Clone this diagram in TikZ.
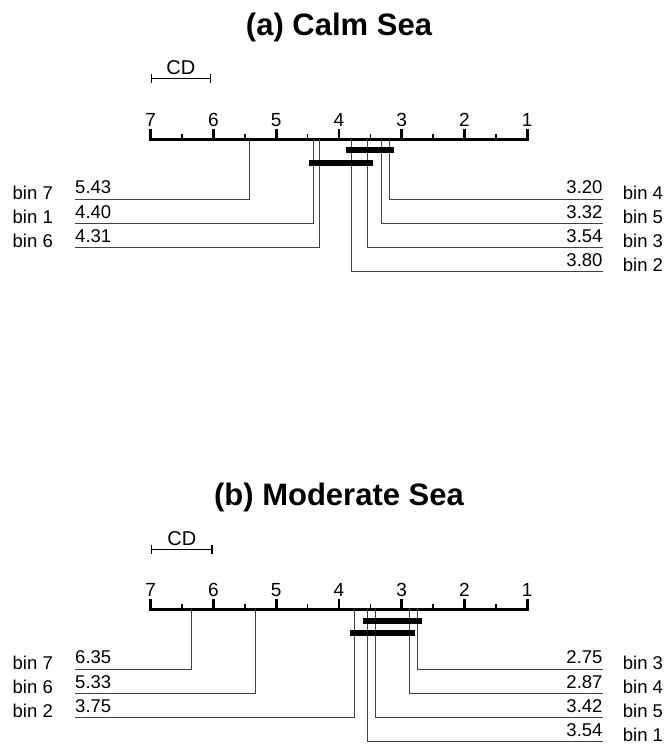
\documentclass[tikz,border=0pt]{standalone}
\usepackage{fontspec}
\setmainfont{Liberation Sans}
\usetikzlibrary{positioning,arrows.meta}

\tikzset{
  axisline/.style={line width=3pt},
  majortick/.style={line width=2.6pt},
  minortick/.style={line width=1.6pt},
  conn/.style={line width=0.9pt, black!75},
  clique/.style={line width=6pt},
  cdbar/.style={line width=1.4pt, {Bar[width=9pt]}-{Bar[width=9pt]}},
  txt/.style={inner sep=0pt, font=\fontsize{18.5}{21}\selectfont},
  cdlbl/.style={inner sep=0pt, anchor=base, font=\fontsize{20}{22}\selectfont},
  ranklbl/.style={inner sep=0pt, anchor=base, font=\fontsize{19}{21}\selectfont},
  paneltitle/.style={inner sep=0pt, anchor=base, font=\fontsize{31}{34}\selectfont\bfseries}
}

\begin{document}
\begin{tikzpicture}[x=1pt, y=-1pt]
  \useasboundingbox (0,0) rectangle (672,747);

  \node[paneltitle] (ta) at (339,35) {(a) Calm Sea};
  \node[paneltitle] (tb) at (339,505) {(b) Moderate Sea};

  % (a) calm sea
  \begin{scope}[shift={(589.95,139.3)}, x={(-62.75pt,0pt)}]
    \draw[axisline] (7,0) -- (1,0);
    \foreach \r in {1,...,7}{
      \draw[majortick] (\r,1.5) -- (\r,-10);
      \node[ranklbl] (an\r) at (\r,-12.5) {\r};
    }
    \foreach \r in {1.5,2.5,...,6.5}
      \draw[minortick] (\r,0) -- (\r,-5);

    \draw[cdbar] (7,-61) -- (6.04,-61);
    \node[cdlbl] (acd) at (6.52,-64.5) {CD};

    \foreach \nm/\rk/\yy in {7/5.43/60, 1/4.40/84.2, 6/4.31/108.4}{
      \coordinate (ap\nm) at (\rk,0);
      \coordinate (al\nm) at (8.206,\yy);
      \draw[conn] (ap\nm) |- (al\nm);
      \node[txt, above right=5pt and 0pt of al\nm] (av\nm) {\rk};
      \node[txt, left=22pt of al\nm, anchor=base east] (ab\nm) {bin \nm};
    }
    \foreach \nm/\rk/\yy in {4/3.20/60, 5/3.32/84.2, 3/3.54/108.4, 2/3.80/132.6}{
      \coordinate (ap\nm) at (\rk,0);
      \coordinate (ar\nm) at (-0.203,\yy);
      \draw[conn] (ap\nm) |- (ar\nm);
      \node[txt, above left=5pt and 0pt of ar\nm] (av\nm) {\rk};
      \node[txt, right=20pt of ar\nm, anchor=base west] (ab\nm) {bin \nm};
    }

    \draw[clique] (3.88,11) -- (3.12,11);
    \draw[clique] (4.48,24) -- (3.46,24);
  \end{scope}

  % (b) moderate sea
  \begin{scope}[shift={(589.95,609.3)}, x={(-62.75pt,0pt)}]
    \draw[axisline] (7,0) -- (1,0);
    \foreach \r in {1,...,7}{
      \draw[majortick] (\r,1.5) -- (\r,-10);
      \node[ranklbl] (bn\r) at (\r,-12.5) {\r};
    }
    \foreach \r in {1.5,2.5,...,6.5}
      \draw[minortick] (\r,0) -- (\r,-5);

    \draw[cdbar] (7,-60) -- (6.01,-60);
    \node[cdlbl] (bcd) at (6.505,-63.5) {CD};

    \foreach \nm/\rk/\yy in {7/6.35/60, 6/5.33/84.2, 2/3.75/108.4}{
      \coordinate (bp\nm) at (\rk,0);
      \coordinate (bl\nm) at (8.206,\yy);
      \draw[conn] (bp\nm) |- (bl\nm);
      \node[txt, above right=5pt and 0pt of bl\nm] (bv\nm) {\rk};
      \node[txt, left=22pt of bl\nm, anchor=base east] (bb\nm) {bin \nm};
    }
    \foreach \nm/\rk/\yy in {3/2.75/60, 4/2.87/84.2, 5/3.42/108.4, 1/3.54/132.6}{
      \coordinate (bp\nm) at (\rk,0);
      \coordinate (br\nm) at (-0.203,\yy);
      \draw[conn] (bp\nm) |- (br\nm);
      \node[txt, above left=5pt and 0pt of br\nm] (bv\nm) {\rk};
      \node[txt, right=20pt of br\nm, anchor=base west] (bb\nm) {bin \nm};
    }

    \draw[clique] (3.62,11.4) -- (2.67,11.4);
    \draw[clique] (3.83,24) -- (2.79,24);
  \end{scope}
\end{tikzpicture}
\end{document}
